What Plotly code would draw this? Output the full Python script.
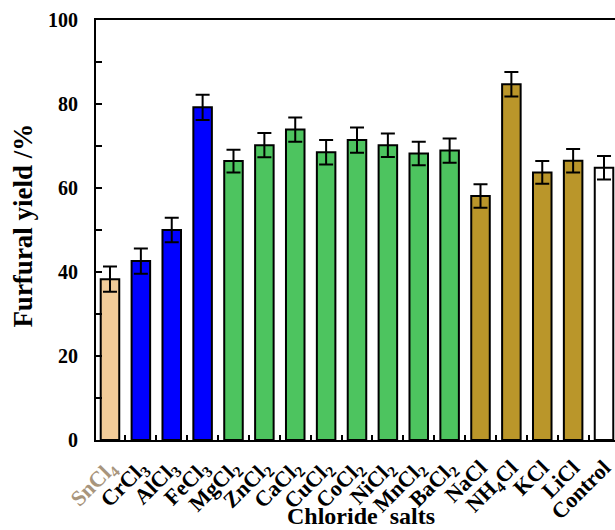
import plotly.graph_objects as go

categories = ["SnCl<sub>4</sub>", "CrCl<sub>3</sub>", "AlCl<sub>3</sub>", "FeCl<sub>3</sub>",
              "MgCl<sub>2</sub>", "ZnCl<sub>2</sub>", "CaCl<sub>2</sub>", "CuCl<sub>2</sub>",
              "CoCl<sub>2</sub>", "NiCl<sub>2</sub>", "MnCl<sub>2</sub>", "BaCl<sub>2</sub>",
              "NaCl", "NH<sub>4</sub>Cl", "KCl", "LiCl", "Control"]
yields = [38.3, 42.6, 50.0, 79.2, 66.4, 70.2, 73.9, 68.5, 71.4, 70.2, 68.2, 68.9,
          58.1, 84.7, 63.7, 66.5, 64.8]
errors = [3.0, 3.0, 2.9, 3.0, 2.7, 2.9, 2.9, 2.9, 3.0, 2.8, 2.8, 2.9,
          2.8, 2.9, 2.7, 2.8, 2.8]
colors = ["#F2CC99", "#0000FF", "#0000FF", "#0000FF",
          "#4DC45F", "#4DC45F", "#4DC45F", "#4DC45F", "#4DC45F", "#4DC45F", "#4DC45F", "#4DC45F",
          "#BA962A", "#BA962A", "#BA962A", "#BA962A", "#FFFFFF"]
y_ticks = [0, 20, 40, 60, 80, 100]

FONT = "Liberation Serif"

tick_text = []
for i, c in enumerate(categories):
    if i == 0:
        tick_text.append(f"<span style='color:#A8957C'>{c}</span>")
    else:
        tick_text.append(c)

fig = go.Figure()
fig.add_trace(go.Bar(
    x=list(range(len(categories))),
    y=yields,
    marker=dict(color=colors, line=dict(color="black", width=2)),
    width=0.6,
    error_y=dict(type="data", array=errors, visible=True, color="black", thickness=2, width=7),
))

fig.update_layout(
    width=615, height=530,
    margin=dict(l=96, r=0, t=20, b=90),
    plot_bgcolor="white", paper_bgcolor="white",
    showlegend=False,
    font=dict(family=FONT, color="black"),
)
fig.update_xaxes(
    range=[-0.453, 16.356],
    tickmode="array",
    tickvals=list(range(len(categories))),
    ticktext=tick_text,
    tickangle=-45,
    tickfont=dict(family=FONT, size=22, color="black", weight="bold"),
    ticklabeloverflow="allow",
    ticklabelstandoff=4,
    showline=True, linecolor="black", linewidth=2, mirror=True,
    ticks="", showgrid=False, zeroline=False,
    minor=dict(tickmode="array", tickvals=[i + 0.5 for i in range(len(categories) - 1)],
               ticks="inside", ticklen=5, tickwidth=2, tickcolor="black"),
)
fig.update_yaxes(
    range=[0, 100],
    tickmode="array", tickvals=y_ticks,
    tickfont=dict(family=FONT, size=20, color="black", weight="bold"),
    ticklabelstandoff=12,
    showline=True, linecolor="black", linewidth=2,
    ticks="inside", ticklen=6, tickwidth=2, tickcolor="black",
    minor=dict(tickmode="array", tickvals=[10, 30, 50, 70, 90],
               ticks="inside", ticklen=6, tickwidth=2, tickcolor="black"),
    showgrid=False, zeroline=False,
)

fig.add_annotation(text="<b>Chloride  salts</b>", xref="paper", yref="paper",
                   x=0.51, y=-0.181, yanchor="middle", xanchor="center", showarrow=False,
                   font=dict(family=FONT, size=24, color="black"))
fig.add_annotation(text="<b>Furfural yield /%</b>", xref="paper", yref="paper",
                   x=-0.141, y=0.51, xanchor="center", yanchor="middle", textangle=-90,
                   showarrow=False, font=dict(family=FONT, size=27, color="black"))

fig.write_html("out.html", config={"displayModeBar": False},
               post_script="document.body.style.margin='0';document.body.style.overflow='hidden';")
